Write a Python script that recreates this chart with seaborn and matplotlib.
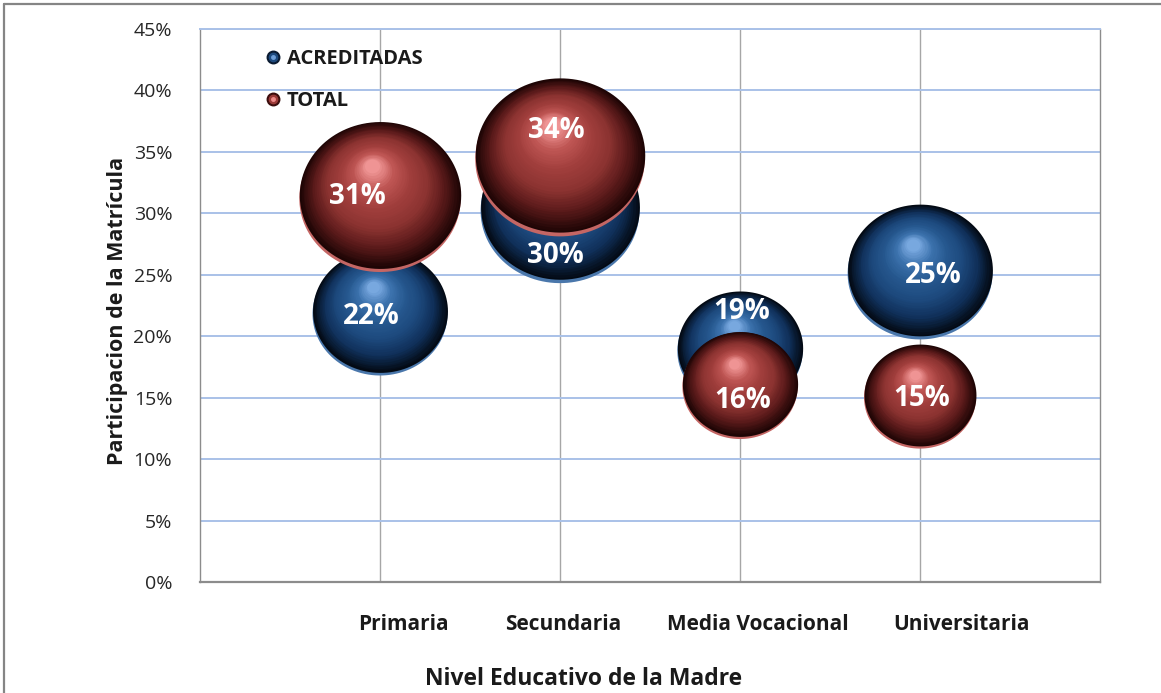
import numpy as np
import pandas as pd
import matplotlib
matplotlib.use("Agg")
import matplotlib.pyplot as plt
import seaborn as sns
from matplotlib.path import Path
from matplotlib.lines import Line2D
from matplotlib.colors import LinearSegmentedColormap
from matplotlib.transforms import ScaledTranslation
from matplotlib.legend_handler import HandlerTuple

# data (percent of enrolment)
niveles = ["Primaria", "Secundaria", "Media Vocacional", "Universitaria"]
acreditadas = [21.8, 30.2, 18.8, 25.1]
total = [31.2, 34.4, 15.9, 15.0]
series = ["ACREDITADAS", "TOTAL"]
y_ticks = [0, 5, 10, 15, 20, 25, 30, 35, 40, 45]

sns.set_theme(style="white")
plt.rcParams["font.family"] = ["Open Sans", "DejaVu Sans"]

df = pd.DataFrame({
    "nivel": niveles * 2,
    "pos": list(range(1, len(niveles) + 1)) * 2,
    "valor": acreditadas + total,
    "serie": [series[0]] * len(niveles) + [series[1]] * len(niveles),
})

# bubble area proportional to value, slightly squashed vertically like the original
SIZE_K = 433
theta = np.linspace(0, 2 * np.pi, 120)
ellipse = Path(np.column_stack([np.cos(theta), 0.91 * np.sin(theta)]), closed=True)

shades = {
    "ACREDITADAS": LinearSegmentedColormap.from_list(
        "azul", ["#030a14", "#10305a", "#1d497d", "#26588f", "#3c72ad", "#80afe6"]),
    "TOTAL": LinearSegmentedColormap.from_list(
        "rojo", ["#1e0505", "#5a1a1a", "#8c3331", "#a03e3c", "#bf5654", "#f59c9c"]),
}
rims = {"ACREDITADAS": "#4a77ab", "TOTAL": "#c46664"}

fig = plt.figure(figsize=(11.61, 6.93), dpi=100)
ax = fig.add_axes([200 / 1161, 1 - 582 / 693, 900 / 1161, 553 / 693])


def sphere(ax, x, y, s, cmap, z):
    r = np.sqrt(s) / 2
    lift = 0.045 * r
    # dark body lifted a touch so a light reflection shows at the bottom edge
    tr = ax.transData + ScaledTranslation(0, lift / 72, fig.dpi_scale_trans)
    ax.scatter([x], [y], s=s, marker=ellipse, color=cmap(0.0),
               linewidths=0, transform=tr, zorder=z + 0.0005)
    n = 40
    for k in range(1, n):
        t = k / n
        f = 1 - 0.93 * t
        dx = -0.10 * r * t
        dy = 0.40 * 0.91 * r * t + lift
        tr = ax.transData + ScaledTranslation(dx / 72, dy / 72, fig.dpi_scale_trans)
        ax.scatter([x], [y], s=s * f * f, marker=ellipse, color=cmap(t),
                   linewidths=0, transform=tr, zorder=z + k * 0.001)


offsets = {
    "ACREDITADAS": [(-9, 2), (-5, 45), (2, -39), (13, 2)],
    "TOTAL": [(-23, -2), (-4, -29), (3, 14), (2, 1)],
}

for i, serie in enumerate(series):
    sub = df[df["serie"] == serie]
    z = 3 + i
    sns.scatterplot(data=sub, x="pos", y="valor", size="valor",
                    sizes=(0, SIZE_K * 50), size_norm=(0, 50), marker=ellipse,
                    color=rims[serie], linewidth=0, legend=False, ax=ax, zorder=z)
    for (_, row), (ox, oy) in zip(sub.iterrows(), offsets[serie]):
        sphere(ax, row["pos"], row["valor"], SIZE_K * row["valor"], shades[serie], z)
        ax.annotate(f"{row['valor']:.0f}%", (row["pos"], row["valor"]),
                    xytext=(ox * 0.72, -oy * 0.72), textcoords="offset points",
                    ha="center", va="center", color="white", fontsize=20,
                    fontweight="bold", zorder=z + 0.5)

ax.set_xlim(0, 5)
ax.set_ylim(0, 45)
ax.set_yticks(y_ticks)
ax.set_yticklabels([f"{v}%" for v in y_ticks], fontsize=14, color="#262626")

# vertical gridlines at the categories, labels drawn a bit off like the source
ax.set_xticks([1, 2, 3, 4], minor=True)
ax.set_xticks([1.13, 2.02, 3.1, 4.23])
ax.set_xticklabels(niveles, fontsize=15, fontweight="bold", color="#1a1a1a")
ax.tick_params(axis="both", which="both", length=0)
ax.tick_params(axis="x", pad=23)
ax.tick_params(axis="y", pad=20)
ax.set_axisbelow(True)
ax.yaxis.grid(True, color="#a9c1e8", linewidth=1.4)
ax.xaxis.grid(True, which="minor", color="#a6a6a6", linewidth=1)
ax.xaxis.grid(False, which="major")

for side in ["left", "right", "bottom"]:
    ax.spines[side].set_color("#8c8c8c")
    ax.spines[side].set_linewidth(1)
ax.spines["bottom"].set_linewidth(1.6)
ax.spines["top"].set_color("#a9c1e8")
ax.spines["top"].set_linewidth(1.4)

ax.set_xlabel("Nivel Educativo de la Madre", fontsize=16.5, fontweight="bold", color="#1a1a1a")
ax.xaxis.set_label_coords(0.426, -0.153)
ax.set_ylabel("Participacion de la Matrícula", fontsize=15.5, fontweight="bold", color="#1a1a1a")
ax.yaxis.set_label_coords(-0.080, 0.49)

handles = [
    (Line2D([], [], ls="", marker="o", ms=9, color="#0a1a30"),
     Line2D([], [], ls="", marker="o", ms=6, color="#1e4a7e"),
     Line2D([], [], ls="", marker="o", ms=2.5, color="#6f9fd8")),
    (Line2D([], [], ls="", marker="o", ms=9, color="#3a0c0c"),
     Line2D([], [], ls="", marker="o", ms=6, color="#9b3a38"),
     Line2D([], [], ls="", marker="o", ms=2.5, color="#ee8a8a")),
]
leg = ax.legend(handles, series, loc="upper left", bbox_to_anchor=(0.073, 0.963),
                frameon=False, handlelength=0.75, handletextpad=0.3,
                labelspacing=1.07, borderpad=0, borderaxespad=0,
                handler_map={tuple: HandlerTuple(ndivide=1, pad=0)},
                prop={"size": 14.5, "weight": "bold"})
for txt in leg.get_texts():
    txt.set_color("#1a1a1a")

# outer chart frame
fig.add_artist(Line2D([4 / 1161, 4 / 1161], [0, 1 - 4 / 693], transform=fig.transFigure,
                      color="#858585", linewidth=1.6))
fig.add_artist(Line2D([4 / 1161, 1], [1 - 4 / 693, 1 - 4 / 693], transform=fig.transFigure,
                      color="#858585", linewidth=1.6))

fig.savefig("out.png", dpi=100)
